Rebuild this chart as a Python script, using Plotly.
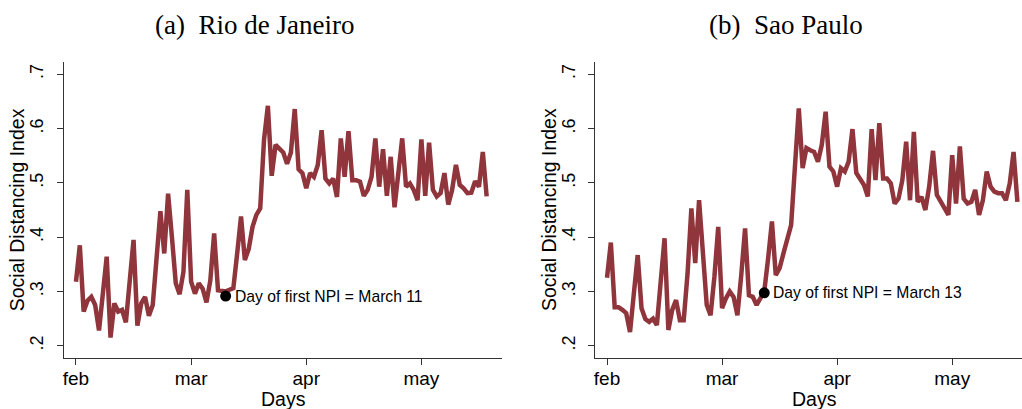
import plotly.graph_objects as go

# ---------------- data ----------------
days = list(range(108))  # day 0 = Feb 1, 2020
month_ticks = [0, 30, 60, 90]
month_labels = ["feb", "mar", "apr", "may"]
y_ticks = [0.2, 0.3, 0.4, 0.5, 0.6, 0.7]
y_labels = [".2", ".3", ".4", ".5", ".6", ".7"]

rio = [0.318, 0.385, 0.263, 0.283, 0.290, 0.275, 0.228, 0.295, 0.364, 0.215,
       0.278, 0.263, 0.266, 0.243, 0.320, 0.395, 0.237, 0.278, 0.290, 0.255,
       0.275, 0.360, 0.448, 0.370, 0.480, 0.400, 0.315, 0.295, 0.336, 0.487,
       0.318, 0.296, 0.315, 0.305, 0.280, 0.320, 0.407, 0.302, 0.302, 0.300,
       0.303, 0.306, 0.370, 0.438, 0.358, 0.378, 0.419, 0.441, 0.453, 0.580,
       0.642, 0.513, 0.570, 0.562, 0.556, 0.535, 0.556, 0.636, 0.525, 0.518,
       0.490, 0.518, 0.511, 0.533, 0.597, 0.508, 0.499, 0.508, 0.474, 0.582,
       0.511, 0.595, 0.505, 0.505, 0.502, 0.476, 0.487, 0.511, 0.582, 0.493,
       0.562, 0.476, 0.548, 0.455, 0.520, 0.582, 0.493, 0.499, 0.487, 0.468,
       0.580, 0.476, 0.574, 0.487, 0.475, 0.481, 0.518, 0.460, 0.487, 0.533,
       0.496, 0.490, 0.481, 0.482, 0.503, 0.493, 0.557, 0.475]

sp = [0.325, 0.390, 0.271, 0.271, 0.266, 0.260, 0.225, 0.300, 0.367, 0.269,
      0.249, 0.244, 0.250, 0.238, 0.320, 0.398, 0.229, 0.266, 0.284, 0.247,
      0.247, 0.333, 0.453, 0.352, 0.468, 0.376, 0.275, 0.256, 0.327, 0.419,
      0.269, 0.287, 0.300, 0.290, 0.256, 0.330, 0.416, 0.293, 0.290, 0.275,
      0.287, 0.300, 0.360, 0.429, 0.330, 0.343, 0.370, 0.395, 0.422, 0.530,
      0.637, 0.527, 0.564, 0.560, 0.557, 0.539, 0.570, 0.631, 0.530, 0.521,
      0.493, 0.527, 0.521, 0.539, 0.599, 0.518, 0.505, 0.496, 0.475, 0.599,
      0.505, 0.610, 0.508, 0.508, 0.499, 0.462, 0.471, 0.505, 0.576, 0.468,
      0.594, 0.465, 0.474, 0.450, 0.493, 0.559, 0.478, 0.465, 0.453, 0.441,
      0.551, 0.462, 0.567, 0.471, 0.462, 0.465, 0.487, 0.441, 0.468, 0.521,
      0.493, 0.484, 0.481, 0.481, 0.468, 0.499, 0.557, 0.465]

npi_day = [39, 41]
npi_value = [0.2915, 0.2975]
npi_text = ["Day of first NPI = March 11", "Day of first NPI = March 13"]
panel_titles = ["(a)  Rio de Janeiro", "(b)  Sao Paulo"]

# ---------------- style ----------------
W, H = 1022, 409
LINE = "rgb(144,53,59)"
AX = "#333333"
SANS = "Liberation Sans, Arial, sans-serif"
SERIF = "Liberation Serif, Times New Roman, serif"

fig = go.Figure()
fig.add_trace(go.Scatter(x=days, y=rio, mode="lines", line=dict(color=LINE, width=4.5),
                         xaxis="x", yaxis="y", hoverinfo="skip"))
fig.add_trace(go.Scatter(x=days, y=sp, mode="lines", line=dict(color=LINE, width=4.5),
                         xaxis="x2", yaxis="y2", hoverinfo="skip"))
fig.add_trace(go.Scatter(x=[npi_day[0]], y=[npi_value[0]], mode="markers",
                         marker=dict(color="black", size=11), xaxis="x", yaxis="y"))
fig.add_trace(go.Scatter(x=[npi_day[1]], y=[npi_value[1]], mode="markers",
                         marker=dict(color="black", size=11), xaxis="x2", yaxis="y2"))

ydom = [1 - 358.3 / H, 1 - 62.3 / H]
common_x = dict(tickvals=month_ticks, ticktext=month_labels, ticks="outside", ticklen=6,
                tickwidth=1.2, tickcolor=AX, showline=True, linecolor=AX, linewidth=1.2,
                showgrid=False, zeroline=False, tickfont=dict(family=SANS, size=19, color="black"),
                ticklabelstandoff=-3, fixedrange=True)
common_y = dict(tickvals=y_ticks, ticktext=y_labels, ticks="outside", ticklen=6,
                tickwidth=1.2, tickcolor=AX, showline=True, linecolor=AX, linewidth=1.2,
                showgrid=False, zeroline=False, tickangle=-90,
                tickfont=dict(family=SANS, size=18, color="black"), range=[0.1768, 0.7221],
                domain=ydom, ticklabelstandoff=6, fixedrange=True)

fig.update_layout(
    width=W, height=H, margin=dict(l=0, r=0, t=0, b=0),
    paper_bgcolor="white", plot_bgcolor="white", showlegend=False,
    xaxis=dict(domain=[63.7 / W, 502 / W], range=[-3.2, 111.0], anchor="y", **common_x),
    yaxis=dict(anchor="x", **common_y),
    xaxis2=dict(domain=[595 / W, 1.0], range=[-3.13, 108.2], anchor="y2", **common_x),
    yaxis2=dict(anchor="x2", **common_y),
)

ann = []
# panel titles
for cx, t in zip([254.3, 785.5], panel_titles):
    ann.append(dict(x=cx / W, y=1 - 25 / H, xref="paper", yref="paper", text=t,
                    showarrow=False, xanchor="center", yanchor="middle",
                    font=dict(family=SERIF, size=27, color="black")))
# y titles
for cx in [17.3, 549]:
    ann.append(dict(x=cx / W, y=1 - 210 / H, xref="paper", yref="paper",
                    text="Social Distancing Index", textangle=-90, showarrow=False,
                    xanchor="center", yanchor="middle",
                    font=dict(family=SANS, size=19.5, color="black")))
# x titles
for cx in [283, 814]:
    ann.append(dict(x=cx / W, y=1 - 398.5 / H, xref="paper", yref="paper", text="Days",
                    showarrow=False, xanchor="center", yanchor="middle",
                    font=dict(family=SANS, size=19.5, color="black")))
# NPI labels
for i, (xr, yr) in enumerate([("x", "y"), ("x2", "y2")]):
    ann.append(dict(x=npi_day[i], y=npi_value[i], xref=xr, yref=yr, text=npi_text[i],
                    showarrow=False, xanchor="left", yanchor="middle", xshift=7,
                    font=dict(family=SANS, size=15.7, color="black")))
fig.update_layout(annotations=ann)

fig.write_html("out.html")
